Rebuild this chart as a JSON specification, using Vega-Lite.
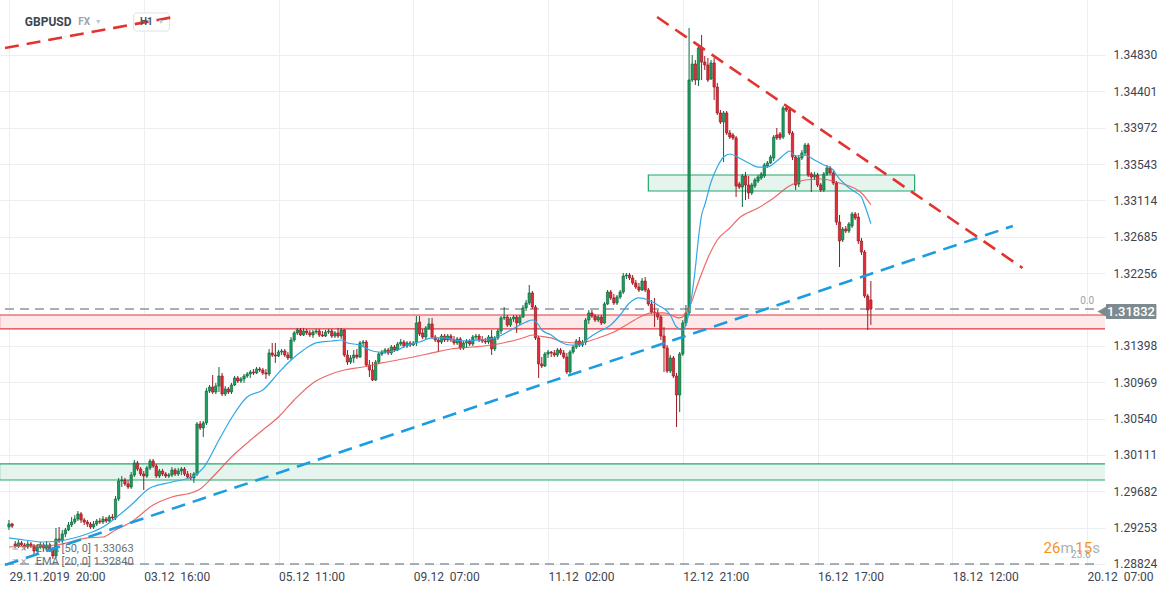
{
"$schema":"https://vega.github.io/schema/vega-lite/v6.json",
"width":1105,"height":566,
"autosize":{"type":"none"},
"padding":{"left":0,"top":0,"right":69,"bottom":28},
"background":"#ffffff",
"config":{"view":{"stroke":null},"font":"Roboto","axis":{"gridColor":"#eceff1","gridWidth":1,"domain":false,"ticks":false,"labelFont":"Roboto","labelFontSize":12,"labelColor":"#3d4450"}},
"datasets":{
"gband":[{"i1":-3,"i2":352,"p1":1.29815,"p2":1.30004}],
"gbox":[{"i1":204.0,"i2":288.97,"p1":1.33225,"p2":1.33414}],
"pband":[{"i1":-3,"i2":352,"p1":1.31597,"p2":1.31762}],
"hl":[{"i1":-1.2647,"i2":346.5,"p":1.31832},{"i1":-1.2647,"i2":346.5,"p":1.28824}],
"h1box":[{"i1":39.8,"i2":51.2,"p1":1.35113,"p2":1.35326}],
"candles":[
{"i":0,"o":1.29260,"h":1.29343,"l":1.29225,"c":1.29296},
{"i":1,"o":1.29296,"h":1.29308,"l":1.29249,"c":1.29272},
{"i":2,"o":1.29060,"h":1.29095,"l":1.29013,"c":1.29036},
{"i":3,"o":1.29036,"h":1.29107,"l":1.29013,"c":1.29072},
{"i":4,"o":1.29072,"h":1.29095,"l":1.29024,"c":1.29048},
{"i":5,"o":1.29048,"h":1.29072,"l":1.28989,"c":1.29024},
{"i":6,"o":1.29024,"h":1.29095,"l":1.29001,"c":1.29060},
{"i":7,"o":1.29060,"h":1.29083,"l":1.29013,"c":1.29036},
{"i":8,"o":1.29036,"h":1.29060,"l":1.28918,"c":1.28977},
{"i":9,"o":1.28977,"h":1.29048,"l":1.28954,"c":1.29024},
{"i":10,"o":1.29024,"h":1.29083,"l":1.29001,"c":1.29048},
{"i":11,"o":1.29048,"h":1.29072,"l":1.28977,"c":1.29013},
{"i":12,"o":1.29013,"h":1.29095,"l":1.28989,"c":1.29048},
{"i":13,"o":1.29048,"h":1.29072,"l":1.28965,"c":1.29001},
{"i":14,"o":1.29001,"h":1.29024,"l":1.28883,"c":1.28918},
{"i":15,"o":1.28918,"h":1.29249,"l":1.28895,"c":1.29119},
{"i":16,"o":1.29119,"h":1.29260,"l":1.29072,"c":1.29095},
{"i":17,"o":1.29095,"h":1.29225,"l":1.29072,"c":1.29178},
{"i":18,"o":1.29178,"h":1.29249,"l":1.29142,"c":1.29225},
{"i":19,"o":1.29225,"h":1.29319,"l":1.29213,"c":1.29284},
{"i":20,"o":1.29284,"h":1.29378,"l":1.29260,"c":1.29319},
{"i":21,"o":1.29319,"h":1.29402,"l":1.29296,"c":1.29355},
{"i":22,"o":1.29355,"h":1.29449,"l":1.29331,"c":1.29414},
{"i":23,"o":1.29414,"h":1.29437,"l":1.29308,"c":1.29343},
{"i":24,"o":1.29343,"h":1.29367,"l":1.29284,"c":1.29319},
{"i":25,"o":1.29319,"h":1.29343,"l":1.29260,"c":1.29296},
{"i":26,"o":1.29296,"h":1.29319,"l":1.29237,"c":1.29260},
{"i":27,"o":1.29260,"h":1.29331,"l":1.29237,"c":1.29296},
{"i":28,"o":1.29296,"h":1.29355,"l":1.29272,"c":1.29331},
{"i":29,"o":1.29331,"h":1.29367,"l":1.29296,"c":1.29319},
{"i":30,"o":1.29319,"h":1.29390,"l":1.29296,"c":1.29355},
{"i":31,"o":1.29355,"h":1.29378,"l":1.29308,"c":1.29331},
{"i":32,"o":1.29331,"h":1.29402,"l":1.29308,"c":1.29378},
{"i":33,"o":1.29378,"h":1.29414,"l":1.29343,"c":1.29367},
{"i":34,"o":1.29367,"h":1.29626,"l":1.29343,"c":1.29591},
{"i":35,"o":1.29591,"h":1.29839,"l":1.29567,"c":1.29803},
{"i":36,"o":1.29803,"h":1.29862,"l":1.29732,"c":1.29815},
{"i":37,"o":1.29815,"h":1.29839,"l":1.29744,"c":1.29768},
{"i":38,"o":1.29768,"h":1.29815,"l":1.29709,"c":1.29732},
{"i":39,"o":1.29732,"h":1.29909,"l":1.29709,"c":1.29874},
{"i":40,"o":1.29874,"h":1.30051,"l":1.29850,"c":1.30016},
{"i":41,"o":1.30016,"h":1.30039,"l":1.29921,"c":1.29945},
{"i":42,"o":1.29945,"h":1.29968,"l":1.29862,"c":1.29886},
{"i":43,"o":1.29886,"h":1.29921,"l":1.29697,"c":1.29862},
{"i":44,"o":1.29862,"h":1.29980,"l":1.29839,"c":1.29957},
{"i":45,"o":1.29957,"h":1.30063,"l":1.29933,"c":1.30039},
{"i":46,"o":1.30039,"h":1.30063,"l":1.29957,"c":1.29980},
{"i":47,"o":1.29980,"h":1.30004,"l":1.29839,"c":1.29862},
{"i":48,"o":1.29862,"h":1.29945,"l":1.29839,"c":1.29921},
{"i":49,"o":1.29921,"h":1.29945,"l":1.29862,"c":1.29886},
{"i":50,"o":1.29886,"h":1.29909,"l":1.29839,"c":1.29862},
{"i":51,"o":1.29862,"h":1.29898,"l":1.29839,"c":1.29874},
{"i":52,"o":1.29874,"h":1.29968,"l":1.29850,"c":1.29933},
{"i":53,"o":1.29933,"h":1.29957,"l":1.29862,"c":1.29886},
{"i":54,"o":1.29886,"h":1.29957,"l":1.29862,"c":1.29921},
{"i":55,"o":1.29921,"h":1.29968,"l":1.29874,"c":1.29945},
{"i":56,"o":1.29945,"h":1.29968,"l":1.29862,"c":1.29886},
{"i":57,"o":1.29886,"h":1.29921,"l":1.29827,"c":1.29850},
{"i":58,"o":1.29850,"h":1.29898,"l":1.29815,"c":1.29839},
{"i":59,"o":1.29839,"h":1.29909,"l":1.29780,"c":1.29886},
{"i":60,"o":1.29886,"h":1.30499,"l":1.29862,"c":1.30476},
{"i":61,"o":1.30476,"h":1.30511,"l":1.30405,"c":1.30429},
{"i":62,"o":1.30429,"h":1.30511,"l":1.30322,"c":1.30488},
{"i":63,"o":1.30488,"h":1.30901,"l":1.30464,"c":1.30865},
{"i":64,"o":1.30865,"h":1.30936,"l":1.30842,"c":1.30912},
{"i":65,"o":1.30912,"h":1.31054,"l":1.30830,"c":1.30853},
{"i":66,"o":1.30853,"h":1.30960,"l":1.30830,"c":1.30924},
{"i":67,"o":1.30924,"h":1.31148,"l":1.30853,"c":1.31042},
{"i":68,"o":1.31042,"h":1.31078,"l":1.30806,"c":1.30830},
{"i":69,"o":1.30830,"h":1.30924,"l":1.30806,"c":1.30889},
{"i":70,"o":1.30889,"h":1.30912,"l":1.30830,"c":1.30853},
{"i":71,"o":1.30853,"h":1.30960,"l":1.30830,"c":1.30936},
{"i":72,"o":1.30936,"h":1.31042,"l":1.30924,"c":1.31019},
{"i":73,"o":1.31019,"h":1.31042,"l":1.30960,"c":1.30983},
{"i":74,"o":1.30983,"h":1.31030,"l":1.30960,"c":1.31007},
{"i":75,"o":1.31007,"h":1.31066,"l":1.30960,"c":1.31042},
{"i":76,"o":1.31042,"h":1.31089,"l":1.31019,"c":1.31066},
{"i":77,"o":1.31066,"h":1.31113,"l":1.31019,"c":1.31089},
{"i":78,"o":1.31089,"h":1.31125,"l":1.31054,"c":1.31078},
{"i":79,"o":1.31078,"h":1.31148,"l":1.31066,"c":1.31125},
{"i":80,"o":1.31125,"h":1.31148,"l":1.31089,"c":1.31113},
{"i":81,"o":1.31113,"h":1.31137,"l":1.31054,"c":1.31078},
{"i":82,"o":1.31078,"h":1.31125,"l":1.31007,"c":1.31066},
{"i":83,"o":1.31066,"h":1.31361,"l":1.31042,"c":1.31314},
{"i":84,"o":1.31314,"h":1.31432,"l":1.31266,"c":1.31290},
{"i":85,"o":1.31290,"h":1.31432,"l":1.31196,"c":1.31278},
{"i":86,"o":1.31278,"h":1.31349,"l":1.31266,"c":1.31325},
{"i":87,"o":1.31325,"h":1.31361,"l":1.31290,"c":1.31337},
{"i":88,"o":1.31337,"h":1.31361,"l":1.31266,"c":1.31290},
{"i":89,"o":1.31290,"h":1.31325,"l":1.31231,"c":1.31255},
{"i":90,"o":1.31255,"h":1.31502,"l":1.31231,"c":1.31467},
{"i":91,"o":1.31467,"h":1.31573,"l":1.31443,"c":1.31550},
{"i":92,"o":1.31550,"h":1.31609,"l":1.31526,"c":1.31585},
{"i":93,"o":1.31585,"h":1.31609,"l":1.31514,"c":1.31526},
{"i":94,"o":1.31526,"h":1.31609,"l":1.31514,"c":1.31573},
{"i":95,"o":1.31573,"h":1.31597,"l":1.31526,"c":1.31550},
{"i":96,"o":1.31550,"h":1.31585,"l":1.31502,"c":1.31526},
{"i":97,"o":1.31526,"h":1.31585,"l":1.31491,"c":1.31561},
{"i":98,"o":1.31561,"h":1.31597,"l":1.31538,"c":1.31573},
{"i":99,"o":1.31573,"h":1.31597,"l":1.31502,"c":1.31526},
{"i":100,"o":1.31526,"h":1.31573,"l":1.31502,"c":1.31514},
{"i":101,"o":1.31514,"h":1.31585,"l":1.31502,"c":1.31561},
{"i":102,"o":1.31561,"h":1.31597,"l":1.31538,"c":1.31573},
{"i":103,"o":1.31573,"h":1.31597,"l":1.31491,"c":1.31514},
{"i":104,"o":1.31514,"h":1.31573,"l":1.31491,"c":1.31550},
{"i":105,"o":1.31550,"h":1.31609,"l":1.31491,"c":1.31514},
{"i":106,"o":1.31514,"h":1.31609,"l":1.31479,"c":1.31585},
{"i":107,"o":1.31585,"h":1.31597,"l":1.31266,"c":1.31290},
{"i":108,"o":1.31290,"h":1.31349,"l":1.31172,"c":1.31207},
{"i":109,"o":1.31207,"h":1.31290,"l":1.31184,"c":1.31255},
{"i":110,"o":1.31255,"h":1.31349,"l":1.31196,"c":1.31290},
{"i":111,"o":1.31290,"h":1.31361,"l":1.31243,"c":1.31266},
{"i":112,"o":1.31266,"h":1.31455,"l":1.31255,"c":1.31432},
{"i":113,"o":1.31432,"h":1.31467,"l":1.31384,"c":1.31443},
{"i":114,"o":1.31443,"h":1.31467,"l":1.31148,"c":1.31172},
{"i":115,"o":1.31172,"h":1.31231,"l":1.31030,"c":1.31113},
{"i":116,"o":1.31113,"h":1.31207,"l":1.30983,"c":1.30995},
{"i":117,"o":1.30995,"h":1.31231,"l":1.30983,"c":1.31207},
{"i":118,"o":1.31207,"h":1.31325,"l":1.31184,"c":1.31302},
{"i":119,"o":1.31302,"h":1.31349,"l":1.31278,"c":1.31325},
{"i":120,"o":1.31325,"h":1.31373,"l":1.31302,"c":1.31349},
{"i":121,"o":1.31349,"h":1.31373,"l":1.31290,"c":1.31314},
{"i":122,"o":1.31314,"h":1.31408,"l":1.31290,"c":1.31384},
{"i":123,"o":1.31384,"h":1.31408,"l":1.31325,"c":1.31349},
{"i":124,"o":1.31349,"h":1.31443,"l":1.31337,"c":1.31420},
{"i":125,"o":1.31420,"h":1.31479,"l":1.31396,"c":1.31443},
{"i":126,"o":1.31443,"h":1.31467,"l":1.31373,"c":1.31396},
{"i":127,"o":1.31396,"h":1.31455,"l":1.31373,"c":1.31432},
{"i":128,"o":1.31432,"h":1.31455,"l":1.31384,"c":1.31408},
{"i":129,"o":1.31408,"h":1.31455,"l":1.31396,"c":1.31432},
{"i":130,"o":1.31432,"h":1.31750,"l":1.31396,"c":1.31668},
{"i":131,"o":1.31679,"h":1.31750,"l":1.31514,"c":1.31538},
{"i":132,"o":1.31550,"h":1.31597,"l":1.31479,"c":1.31502},
{"i":133,"o":1.31502,"h":1.31632,"l":1.31479,"c":1.31609},
{"i":134,"o":1.31609,"h":1.31727,"l":1.31585,"c":1.31656},
{"i":135,"o":1.31656,"h":1.31727,"l":1.31479,"c":1.31502},
{"i":136,"o":1.31502,"h":1.31526,"l":1.31443,"c":1.31467},
{"i":137,"o":1.31467,"h":1.31491,"l":1.31325,"c":1.31443},
{"i":138,"o":1.31443,"h":1.31538,"l":1.31420,"c":1.31514},
{"i":139,"o":1.31514,"h":1.31538,"l":1.31443,"c":1.31467},
{"i":140,"o":1.31467,"h":1.31538,"l":1.31443,"c":1.31514},
{"i":141,"o":1.31514,"h":1.31538,"l":1.31443,"c":1.31467},
{"i":142,"o":1.31467,"h":1.31514,"l":1.31408,"c":1.31432},
{"i":143,"o":1.31432,"h":1.31502,"l":1.31408,"c":1.31479},
{"i":144,"o":1.31479,"h":1.31502,"l":1.31349,"c":1.31373},
{"i":145,"o":1.31373,"h":1.31455,"l":1.31349,"c":1.31432},
{"i":146,"o":1.31432,"h":1.31479,"l":1.31373,"c":1.31455},
{"i":147,"o":1.31455,"h":1.31479,"l":1.31396,"c":1.31420},
{"i":148,"o":1.31420,"h":1.31526,"l":1.31396,"c":1.31502},
{"i":149,"o":1.31502,"h":1.31538,"l":1.31467,"c":1.31514},
{"i":150,"o":1.31514,"h":1.31538,"l":1.31443,"c":1.31467},
{"i":151,"o":1.31467,"h":1.31514,"l":1.31432,"c":1.31455},
{"i":152,"o":1.31455,"h":1.31491,"l":1.31420,"c":1.31443},
{"i":153,"o":1.31443,"h":1.31526,"l":1.31420,"c":1.31502},
{"i":154,"o":1.31502,"h":1.31585,"l":1.31290,"c":1.31361},
{"i":155,"o":1.31361,"h":1.31514,"l":1.31337,"c":1.31491},
{"i":156,"o":1.31491,"h":1.31597,"l":1.31467,"c":1.31573},
{"i":157,"o":1.31573,"h":1.31750,"l":1.31538,"c":1.31727},
{"i":158,"o":1.31727,"h":1.31856,"l":1.31703,"c":1.31738},
{"i":159,"o":1.31738,"h":1.31762,"l":1.31620,"c":1.31644},
{"i":160,"o":1.31644,"h":1.31738,"l":1.31620,"c":1.31715},
{"i":161,"o":1.31715,"h":1.31762,"l":1.31679,"c":1.31738},
{"i":162,"o":1.31738,"h":1.31762,"l":1.31550,"c":1.31668},
{"i":163,"o":1.31668,"h":1.31762,"l":1.31644,"c":1.31738},
{"i":164,"o":1.31738,"h":1.31880,"l":1.31727,"c":1.31845},
{"i":165,"o":1.31845,"h":1.31939,"l":1.31809,"c":1.31904},
{"i":166,"o":1.31904,"h":1.32116,"l":1.31880,"c":1.32022},
{"i":167,"o":1.32022,"h":1.32045,"l":1.31833,"c":1.31856},
{"i":168,"o":1.31856,"h":1.31880,"l":1.31467,"c":1.31491},
{"i":169,"o":1.31491,"h":1.31514,"l":1.31019,"c":1.31184},
{"i":170,"o":1.31184,"h":1.31266,"l":1.31137,"c":1.31160},
{"i":171,"o":1.31160,"h":1.31325,"l":1.31148,"c":1.31302},
{"i":172,"o":1.31302,"h":1.31349,"l":1.31255,"c":1.31325},
{"i":173,"o":1.31325,"h":1.31337,"l":1.31266,"c":1.31314},
{"i":174,"o":1.31314,"h":1.31349,"l":1.31266,"c":1.31290},
{"i":175,"o":1.31290,"h":1.31373,"l":1.31266,"c":1.31349},
{"i":176,"o":1.31349,"h":1.31373,"l":1.31290,"c":1.31314},
{"i":177,"o":1.31314,"h":1.31349,"l":1.31243,"c":1.31266},
{"i":178,"o":1.31266,"h":1.31314,"l":1.31066,"c":1.31089},
{"i":179,"o":1.31089,"h":1.31349,"l":1.31066,"c":1.31325},
{"i":180,"o":1.31325,"h":1.31408,"l":1.31302,"c":1.31384},
{"i":181,"o":1.31384,"h":1.31479,"l":1.31361,"c":1.31455},
{"i":182,"o":1.31455,"h":1.31502,"l":1.31384,"c":1.31408},
{"i":183,"o":1.31408,"h":1.31467,"l":1.31384,"c":1.31443},
{"i":184,"o":1.31443,"h":1.31727,"l":1.31408,"c":1.31703},
{"i":185,"o":1.31703,"h":1.31821,"l":1.31656,"c":1.31786},
{"i":186,"o":1.31786,"h":1.31821,"l":1.31727,"c":1.31750},
{"i":187,"o":1.31750,"h":1.31774,"l":1.31679,"c":1.31703},
{"i":188,"o":1.31703,"h":1.31762,"l":1.31679,"c":1.31738},
{"i":189,"o":1.31738,"h":1.31762,"l":1.31644,"c":1.31668},
{"i":190,"o":1.31668,"h":1.31915,"l":1.31656,"c":1.31892},
{"i":191,"o":1.31892,"h":1.32057,"l":1.31880,"c":1.32033},
{"i":192,"o":1.32033,"h":1.32057,"l":1.31939,"c":1.31963},
{"i":193,"o":1.31963,"h":1.32010,"l":1.31880,"c":1.31904},
{"i":194,"o":1.31904,"h":1.31998,"l":1.31880,"c":1.31974},
{"i":195,"o":1.31974,"h":1.32057,"l":1.31951,"c":1.32033},
{"i":196,"o":1.32033,"h":1.32258,"l":1.32010,"c":1.32222},
{"i":197,"o":1.32222,"h":1.32258,"l":1.32187,"c":1.32234},
{"i":198,"o":1.32234,"h":1.32258,"l":1.32175,"c":1.32199},
{"i":199,"o":1.32199,"h":1.32234,"l":1.32116,"c":1.32140},
{"i":200,"o":1.32140,"h":1.32175,"l":1.32069,"c":1.32092},
{"i":201,"o":1.32092,"h":1.32140,"l":1.32033,"c":1.32057},
{"i":202,"o":1.32057,"h":1.32199,"l":1.32045,"c":1.32163},
{"i":203,"o":1.32163,"h":1.32210,"l":1.32033,"c":1.32057},
{"i":204,"o":1.32057,"h":1.32081,"l":1.31868,"c":1.31892},
{"i":205,"o":1.31892,"h":1.31939,"l":1.31774,"c":1.31797},
{"i":206,"o":1.31797,"h":1.31963,"l":1.31620,"c":1.31786},
{"i":207,"o":1.31786,"h":1.31821,"l":1.31703,"c":1.31738},
{"i":208,"o":1.31738,"h":1.31762,"l":1.31467,"c":1.31514},
{"i":209,"o":1.31514,"h":1.31620,"l":1.31089,"c":1.31373},
{"i":210,"o":1.31373,"h":1.31408,"l":1.31078,"c":1.31101},
{"i":211,"o":1.31101,"h":1.31290,"l":1.31078,"c":1.31255},
{"i":212,"o":1.31255,"h":1.31278,"l":1.31019,"c":1.31042},
{"i":213,"o":1.31042,"h":1.31078,"l":1.30440,"c":1.30818},
{"i":214,"o":1.30818,"h":1.31325,"l":1.30617,"c":1.31302},
{"i":215,"o":1.31302,"h":1.31703,"l":1.31278,"c":1.31668},
{"i":216,"o":1.31668,"h":1.31880,"l":1.31632,"c":1.31786},
{"i":217,"o":1.31786,"h":1.35149,"l":1.31762,"c":1.34535},
{"i":218,"o":1.34535,"h":1.34830,"l":1.34511,"c":1.34724},
{"i":219,"o":1.34724,"h":1.34771,"l":1.34476,"c":1.34535},
{"i":220,"o":1.34535,"h":1.34960,"l":1.34464,"c":1.34913},
{"i":221,"o":1.34913,"h":1.35066,"l":1.34535,"c":1.34747},
{"i":222,"o":1.34747,"h":1.34818,"l":1.34653,"c":1.34712},
{"i":223,"o":1.34712,"h":1.34795,"l":1.34511,"c":1.34535},
{"i":224,"o":1.34547,"h":1.34771,"l":1.34535,"c":1.34736},
{"i":225,"o":1.34736,"h":1.34795,"l":1.34299,"c":1.34452},
{"i":226,"o":1.34452,"h":1.34500,"l":1.34122,"c":1.34146},
{"i":227,"o":1.34146,"h":1.34181,"l":1.34016,"c":1.34039},
{"i":228,"o":1.34039,"h":1.34169,"l":1.33567,"c":1.34146},
{"i":229,"o":1.34146,"h":1.34169,"l":1.33886,"c":1.33910},
{"i":230,"o":1.33910,"h":1.33945,"l":1.33839,"c":1.33862},
{"i":231,"o":1.33886,"h":1.33910,"l":1.33827,"c":1.33851},
{"i":232,"o":1.33851,"h":1.33874,"l":1.33154,"c":1.33284},
{"i":233,"o":1.33308,"h":1.33331,"l":1.33249,"c":1.33272},
{"i":234,"o":1.33272,"h":1.33426,"l":1.33036,"c":1.33402},
{"i":235,"o":1.33402,"h":1.33449,"l":1.33119,"c":1.33296},
{"i":236,"o":1.33296,"h":1.33402,"l":1.33131,"c":1.33202},
{"i":237,"o":1.33202,"h":1.33320,"l":1.33178,"c":1.33296},
{"i":238,"o":1.33284,"h":1.33379,"l":1.33261,"c":1.33355},
{"i":239,"o":1.33343,"h":1.33414,"l":1.33320,"c":1.33390},
{"i":240,"o":1.33379,"h":1.33449,"l":1.33355,"c":1.33426},
{"i":241,"o":1.33402,"h":1.33556,"l":1.33379,"c":1.33532},
{"i":242,"o":1.33520,"h":1.33579,"l":1.33497,"c":1.33556},
{"i":243,"o":1.33556,"h":1.33650,"l":1.33544,"c":1.33626},
{"i":244,"o":1.33615,"h":1.33886,"l":1.33579,"c":1.33862},
{"i":245,"o":1.33886,"h":1.33969,"l":1.33827,"c":1.33851},
{"i":246,"o":1.33898,"h":1.33921,"l":1.33827,"c":1.33851},
{"i":247,"o":1.33862,"h":1.34228,"l":1.33839,"c":1.34205},
{"i":248,"o":1.34205,"h":1.34240,"l":1.34157,"c":1.34181},
{"i":249,"o":1.34181,"h":1.34205,"l":1.33886,"c":1.33910},
{"i":250,"o":1.33910,"h":1.33933,"l":1.33591,"c":1.33626},
{"i":251,"o":1.33626,"h":1.33650,"l":1.33237,"c":1.33296},
{"i":252,"o":1.33308,"h":1.33650,"l":1.33272,"c":1.33615},
{"i":253,"o":1.33615,"h":1.33709,"l":1.33591,"c":1.33674},
{"i":254,"o":1.33674,"h":1.33792,"l":1.33638,"c":1.33768},
{"i":255,"o":1.33768,"h":1.33792,"l":1.33390,"c":1.33414},
{"i":256,"o":1.33426,"h":1.33449,"l":1.33213,"c":1.33390},
{"i":257,"o":1.33390,"h":1.33449,"l":1.33355,"c":1.33414},
{"i":258,"o":1.33414,"h":1.33438,"l":1.33272,"c":1.33296},
{"i":259,"o":1.33296,"h":1.33320,"l":1.33213,"c":1.33237},
{"i":260,"o":1.33237,"h":1.33449,"l":1.33213,"c":1.33426},
{"i":261,"o":1.33426,"h":1.33532,"l":1.33402,"c":1.33497},
{"i":262,"o":1.33497,"h":1.33520,"l":1.33414,"c":1.33438},
{"i":263,"o":1.33438,"h":1.33461,"l":1.33296,"c":1.33320},
{"i":264,"o":1.33320,"h":1.33343,"l":1.32824,"c":1.32859},
{"i":265,"o":1.32859,"h":1.32942,"l":1.32328,"c":1.32635},
{"i":266,"o":1.32647,"h":1.32800,"l":1.32623,"c":1.32777},
{"i":267,"o":1.32777,"h":1.32812,"l":1.32730,"c":1.32753},
{"i":268,"o":1.32753,"h":1.32859,"l":1.32730,"c":1.32836},
{"i":269,"o":1.32812,"h":1.32977,"l":1.32789,"c":1.32954},
{"i":270,"o":1.32954,"h":1.32977,"l":1.32883,"c":1.32907},
{"i":271,"o":1.32918,"h":1.32966,"l":1.32600,"c":1.32635},
{"i":272,"o":1.32635,"h":1.32671,"l":1.32470,"c":1.32505},
{"i":273,"o":1.32505,"h":1.32529,"l":1.31963,"c":1.31986},
{"i":274,"o":1.31986,"h":1.32010,"l":1.31585,"c":1.31821},
{"i":275,"o":1.31939,"h":1.32163,"l":1.31644,"c":1.31832}
],
"ema50":[
{"i":0,"p":1.29024},{"i":7,"p":1.29036},{"i":15,"p":1.29048},{"i":25,"p":1.29131},{"i":30,"p":1.29142},{"i":34,"p":1.29225},{"i":39,"p":1.29319},{"i":46,"p":1.29520},{"i":52,"p":1.29614},{"i":59,"p":1.29673},{"i":61,"p":1.29709},{"i":65,"p":1.29850},{"i":71,"p":1.30086},{"i":76,"p":1.30252},{"i":81,"p":1.30405},{"i":86,"p":1.30558},{"i":91,"p":1.30759},{"i":97,"p":1.30960},{"i":102,"p":1.31054},{"i":107,"p":1.31113},{"i":113,"p":1.31148},{"i":119,"p":1.31196},{"i":124,"p":1.31231},{"i":129,"p":1.31266},{"i":135,"p":1.31314},{"i":141,"p":1.31361},{"i":148,"p":1.31384},{"i":154,"p":1.31408},{"i":159,"p":1.31443},{"i":164,"p":1.31491},{"i":167,"p":1.31526},{"i":169,"p":1.31514},{"i":173,"p":1.31491},{"i":177,"p":1.31443},{"i":182,"p":1.31432},{"i":188,"p":1.31491},{"i":193,"p":1.31561},{"i":198,"p":1.31668},{"i":202,"p":1.31750},{"i":205,"p":1.31786},{"i":209,"p":1.31786},{"i":214,"p":1.31727},{"i":217,"p":1.31845},{"i":220,"p":1.32151},{"i":223,"p":1.32435},{"i":226,"p":1.32647},{"i":230,"p":1.32789},{"i":233,"p":1.32907},{"i":239,"p":1.33025},{"i":244,"p":1.33143},{"i":249,"p":1.33284},{"i":254,"p":1.33355},{"i":259,"p":1.33367},{"i":265,"p":1.33320},{"i":272,"p":1.33202},{"i":275,"p":1.33063}
],
"ema20":[
{"i":0,"p":1.29131},{"i":5,"p":1.29107},{"i":11,"p":1.29083},{"i":18,"p":1.29107},{"i":24,"p":1.29166},{"i":30,"p":1.29260},{"i":34,"p":1.29367},{"i":39,"p":1.29520},{"i":45,"p":1.29721},{"i":52,"p":1.29791},{"i":59,"p":1.29862},{"i":62,"p":1.29957},{"i":67,"p":1.30287},{"i":71,"p":1.30547},{"i":76,"p":1.30794},{"i":81,"p":1.30877},{"i":86,"p":1.31078},{"i":89,"p":1.31196},{"i":94,"p":1.31349},{"i":98,"p":1.31432},{"i":103,"p":1.31455},{"i":106,"p":1.31467},{"i":108,"p":1.31432},{"i":112,"p":1.31408},{"i":115,"p":1.31349},{"i":118,"p":1.31325},{"i":121,"p":1.31325},{"i":124,"p":1.31349},{"i":127,"p":1.31408},{"i":131,"p":1.31443},{"i":135,"p":1.31491},{"i":139,"p":1.31491},{"i":142,"p":1.31467},{"i":146,"p":1.31455},{"i":150,"p":1.31467},{"i":155,"p":1.31491},{"i":159,"p":1.31561},{"i":163,"p":1.31644},{"i":165,"p":1.31679},{"i":167,"p":1.31703},{"i":169,"p":1.31644},{"i":170,"p":1.31585},{"i":173,"p":1.31526},{"i":176,"p":1.31443},{"i":179,"p":1.31408},{"i":182,"p":1.31408},{"i":185,"p":1.31491},{"i":188,"p":1.31561},{"i":192,"p":1.31644},{"i":195,"p":1.31762},{"i":198,"p":1.31904},{"i":201,"p":1.31963},{"i":204,"p":1.31939},{"i":207,"p":1.31880},{"i":211,"p":1.31762},{"i":213,"p":1.31620},{"i":215,"p":1.31585},{"i":217,"p":1.31797},{"i":219,"p":1.32317},{"i":220,"p":1.32671},{"i":221,"p":1.32942},{"i":222,"p":1.33060},{"i":224,"p":1.33331},{"i":226,"p":1.33508},{"i":228,"p":1.33626},{"i":230,"p":1.33662},{"i":233,"p":1.33615},{"i":236,"p":1.33556},{"i":239,"p":1.33508},{"i":242,"p":1.33508},{"i":245,"p":1.33579},{"i":248,"p":1.33674},{"i":249,"p":1.33697},{"i":251,"p":1.33638},{"i":254,"p":1.33650},{"i":257,"p":1.33591},{"i":260,"p":1.33532},{"i":263,"p":1.33473},{"i":264,"p":1.33414},{"i":267,"p":1.33296},{"i":269,"p":1.33237},{"i":272,"p":1.33154},{"i":273,"p":1.33060},{"i":275,"p":1.32840}
],
"redtl":[{"g":"a","i":-1.2647,"p":1.34913},{"g":"a","i":52.5,"p":1.35278},{"g":"b","i":206.8,"p":1.35278},{"g":"b","i":323.4,"p":1.32317}],
"bluetl":[{"i":-1.2647,"p":1.28812},{"i":320.3,"p":1.32812}],
"ttl":[{"i":5.06,"p":1.35219,"t":"GBPUSD"}],
"tfx":[{"i":22.1,"p":1.35219,"t":"FX"}],
"th1":[{"i":41.8,"p":1.35219,"t":"H1"}],
"ttri":[{"i":28.5,"p":1.35219,"t":"▼"},{"i":48.5,"p":1.35219,"t":"▼"}],
"tleg":[{"i":8.54,"p":1.29001,"t":"EMA [50, 0] 1.33063"},{"i":8.54,"p":1.28847,"t":"EMA [20, 0] 1.32840"}],
"ticon":[{"i":0.9,"p":1.29001,"t":"≡ ×"},{"i":0.9,"p":1.28847,"t":"≡ ×"}],
"tfib":[{"i":344.0,"p":1.31927,"t":"0.0"},{"i":342.0,"p":1.28925,"t":"23.6"}],
"torange":[{"i":330.1,"p":1.29013,"t":"26"},{"i":340.2,"p":1.29013,"t":"15"}],
"tgrey":[{"i":335.5,"p":1.29013,"t":"m"},{"i":345.6,"p":1.29013,"t":"s"}],
"tag":[{"i1":350.0,"i2":366.1,"p1":1.31715,"p2":1.31892}],
"tagtri":[{"i":349.0,"p":1.31803}],
"tagtxt":[{"i":358.0,"p":1.31803,"t":"1.31832"}]
},
"layer":[
{"data":{"name":"gband"},"mark":{"type":"rect","fill":"#e5f5ee","stroke":"#22a86b","strokeWidth":1.2,"clip":true},
 "encoding":{
  "x":{"field":"i1","type":"quantitative","scale":{"domain":[-1.2647,348.11],"nice":false,"zero":false},
   "axis":{"values":[0,43,86,129,172,215,258,301,344],"grid":true,"labelAlign":"left","labelPadding":5,"labelBound":false,"labelOverlap":false,"labelFlush":false,"title":null,
    "labelExpr":"datum.value==0?'29.11.2019\u00a0 20:00':datum.value==43?'03.12\u00a0 16:00':datum.value==86?'05.12\u00a0 11:00':datum.value==129?'09.12\u00a0 07:00':datum.value==172?'11.12\u00a0 02:00':datum.value==215?'12.12\u00a0 21:00':datum.value==258?'16.12\u00a0 17:00':datum.value==301?'18.12\u00a0 12:00':'20.12\u00a0 07:00'"}},
  "x2":{"field":"i2"},
  "y":{"field":"p1","type":"quantitative","scale":{"domain":[1.288,1.35479],"nice":false,"zero":false},
   "axis":{"orient":"right","values":[1.28824,1.29253,1.29682,1.30111,1.3054,1.30969,1.31398,1.32256,1.32685,1.33114,1.33543,1.33972,1.34401,1.3483],"format":".5f","grid":true,"labelPadding":8,"title":null}},
  "y2":{"field":"p2"}}},
{"data":{"name":"gbox"},"mark":{"type":"rect","fill":"#e5f5ee","stroke":"#22a86b","strokeWidth":1.2,"clip":true},
 "encoding":{"x":{"field":"i1","type":"quantitative","scale":{"domain":[-1.2647,348.11],"nice":false,"zero":false}},"x2":{"field":"i2"},
  "y":{"field":"p1","type":"quantitative","scale":{"domain":[1.288,1.35479],"nice":false,"zero":false}},"y2":{"field":"p2"}}},
{"data":{"name":"pband"},"mark":{"type":"rect","fill":"#fde9e9","stroke":"#e2393e","strokeWidth":1.2,"clip":true},
 "encoding":{"x":{"field":"i1","type":"quantitative","scale":{"domain":[-1.2647,348.11],"nice":false,"zero":false}},"x2":{"field":"i2"},
  "y":{"field":"p1","type":"quantitative","scale":{"domain":[1.288,1.35479],"nice":false,"zero":false}},"y2":{"field":"p2"}}},
{"data":{"name":"hl"},"mark":{"type":"rule","color":"#8c979e","strokeWidth":1.6,"strokeDash":[9,6]},
 "encoding":{"x":{"field":"i1","type":"quantitative","scale":{"domain":[-1.2647,348.11],"nice":false,"zero":false}},"x2":{"field":"i2"},
  "y":{"field":"p","type":"quantitative","scale":{"domain":[1.288,1.35479],"nice":false,"zero":false}}}},
{"data":{"name":"h1box"},"mark":{"type":"rect","fill":"#ffffff","stroke":"#dde2e5","strokeWidth":1,"cornerRadius":3},
 "encoding":{"x":{"field":"i1","type":"quantitative","scale":{"domain":[-1.2647,348.11],"nice":false,"zero":false}},"x2":{"field":"i2"},
  "y":{"field":"p1","type":"quantitative","scale":{"domain":[1.288,1.35479],"nice":false,"zero":false}},"y2":{"field":"p2"}}},
{"data":{"name":"candles"},"mark":{"type":"rule","strokeWidth":1},
 "encoding":{"x":{"field":"i","type":"quantitative","scale":{"domain":[-1.2647,348.11],"nice":false,"zero":false}},
  "y":{"field":"l","type":"quantitative","scale":{"domain":[1.288,1.35479],"nice":false,"zero":false}},"y2":{"field":"h"},
  "color":{"condition":{"test":"datum.c>=datum.o","value":"#0d6a3c"},"value":"#9a1a22"}}},
{"data":{"name":"candles"},"mark":{"type":"bar","size":2.3,"strokeWidth":0.7},
 "encoding":{"x":{"field":"i","type":"quantitative","scale":{"domain":[-1.2647,348.11],"nice":false,"zero":false}},
  "y":{"field":"o","type":"quantitative","scale":{"domain":[1.288,1.35479],"nice":false,"zero":false}},"y2":{"field":"c"},
  "fill":{"condition":{"test":"datum.c>=datum.o","value":"#1f9e62"},"value":"#e22b36"},
  "stroke":{"condition":{"test":"datum.c>=datum.o","value":"#0d6a3c"},"value":"#9a1a22"}}},
{"data":{"name":"ema50"},"mark":{"type":"line","color":"#e8514f","strokeWidth":1.2,"opacity":0.85,"interpolate":"monotone"},
 "encoding":{"x":{"field":"i","type":"quantitative","scale":{"domain":[-1.2647,348.11],"nice":false,"zero":false}},
  "y":{"field":"p","type":"quantitative","scale":{"domain":[1.288,1.35479],"nice":false,"zero":false}}}},
{"data":{"name":"ema20"},"mark":{"type":"line","color":"#2fa8e6","strokeWidth":1.2,"interpolate":"monotone"},
 "encoding":{"x":{"field":"i","type":"quantitative","scale":{"domain":[-1.2647,348.11],"nice":false,"zero":false}},
  "y":{"field":"p","type":"quantitative","scale":{"domain":[1.288,1.35479],"nice":false,"zero":false}}}},
{"data":{"name":"ticon"},"mark":{"type":"text","align":"left","baseline":"middle","fontSize":11,"color":"#9aa4aa"},
 "encoding":{"x":{"field":"i","type":"quantitative","scale":{"domain":[-1.2647,348.11],"nice":false,"zero":false}},
  "y":{"field":"p","type":"quantitative","scale":{"domain":[1.288,1.35479],"nice":false,"zero":false}},"text":{"field":"t"}}},
{"data":{"name":"tleg"},"mark":{"type":"text","align":"left","baseline":"middle","fontSize":11,"color":"#666f75"},
 "encoding":{"x":{"field":"i","type":"quantitative","scale":{"domain":[-1.2647,348.11],"nice":false,"zero":false}},
  "y":{"field":"p","type":"quantitative","scale":{"domain":[1.288,1.35479],"nice":false,"zero":false}},"text":{"field":"t"}}},
{"data":{"name":"redtl"},"mark":{"type":"line","color":"#e2332f","strokeWidth":2.6,"strokeDash":[14,8],"clip":true},
 "encoding":{"x":{"field":"i","type":"quantitative","scale":{"domain":[-1.2647,348.11],"nice":false,"zero":false}},
  "y":{"field":"p","type":"quantitative","scale":{"domain":[1.288,1.35479],"nice":false,"zero":false}},"detail":{"field":"g"}}},
{"data":{"name":"bluetl"},"mark":{"type":"line","color":"#1b9de2","strokeWidth":2.6,"strokeDash":[14,8],"clip":true},
 "encoding":{"x":{"field":"i","type":"quantitative","scale":{"domain":[-1.2647,348.11],"nice":false,"zero":false}},
  "y":{"field":"p","type":"quantitative","scale":{"domain":[1.288,1.35479],"nice":false,"zero":false}}}},
{"data":{"name":"ttl"},"mark":{"type":"text","align":"left","baseline":"middle","fontSize":12,"fontWeight":"bold","color":"#3b4650"},
 "encoding":{"x":{"field":"i","type":"quantitative","scale":{"domain":[-1.2647,348.11],"nice":false,"zero":false}},
  "y":{"field":"p","type":"quantitative","scale":{"domain":[1.288,1.35479],"nice":false,"zero":false}},"text":{"field":"t"}}},
{"data":{"name":"tfx"},"mark":{"type":"text","align":"left","baseline":"middle","fontSize":10,"fontWeight":"bold","color":"#9aa7ad"},
 "encoding":{"x":{"field":"i","type":"quantitative","scale":{"domain":[-1.2647,348.11],"nice":false,"zero":false}},
  "y":{"field":"p","type":"quantitative","scale":{"domain":[1.288,1.35479],"nice":false,"zero":false}},"text":{"field":"t"}}},
{"data":{"name":"th1"},"mark":{"type":"text","align":"left","baseline":"middle","fontSize":10,"fontWeight":"bold","color":"#4b5560"},
 "encoding":{"x":{"field":"i","type":"quantitative","scale":{"domain":[-1.2647,348.11],"nice":false,"zero":false}},
  "y":{"field":"p","type":"quantitative","scale":{"domain":[1.288,1.35479],"nice":false,"zero":false}},"text":{"field":"t"}}},
{"data":{"name":"ttri"},"mark":{"type":"text","align":"center","baseline":"middle","fontSize":7,"color":"#bcc4c8"},
 "encoding":{"x":{"field":"i","type":"quantitative","scale":{"domain":[-1.2647,348.11],"nice":false,"zero":false}},
  "y":{"field":"p","type":"quantitative","scale":{"domain":[1.288,1.35479],"nice":false,"zero":false}},"text":{"field":"t"}}},
{"data":{"name":"tfib"},"mark":{"type":"text","align":"center","baseline":"middle","fontSize":10,"color":"#98a6ae"},
 "encoding":{"x":{"field":"i","type":"quantitative","scale":{"domain":[-1.2647,348.11],"nice":false,"zero":false}},
  "y":{"field":"p","type":"quantitative","scale":{"domain":[1.288,1.35479],"nice":false,"zero":false}},"text":{"field":"t"}}},
{"data":{"name":"torange"},"mark":{"type":"text","align":"left","baseline":"middle","fontSize":15,"color":"#f7941d"},
 "encoding":{"x":{"field":"i","type":"quantitative","scale":{"domain":[-1.2647,348.11],"nice":false,"zero":false}},
  "y":{"field":"p","type":"quantitative","scale":{"domain":[1.288,1.35479],"nice":false,"zero":false}},"text":{"field":"t"}}},
{"data":{"name":"tgrey"},"mark":{"type":"text","align":"left","baseline":"middle","fontSize":15,"color":"#a9b3b9"},
 "encoding":{"x":{"field":"i","type":"quantitative","scale":{"domain":[-1.2647,348.11],"nice":false,"zero":false}},
  "y":{"field":"p","type":"quantitative","scale":{"domain":[1.288,1.35479],"nice":false,"zero":false}},"text":{"field":"t"}}},
{"data":{"name":"tag"},"mark":{"type":"rect","fill":"#7d8a90","cornerRadius":1},
 "encoding":{"x":{"field":"i1","type":"quantitative","scale":{"domain":[-1.2647,348.11],"nice":false,"zero":false}},"x2":{"field":"i2"},
  "y":{"field":"p1","type":"quantitative","scale":{"domain":[1.288,1.35479],"nice":false,"zero":false}},"y2":{"field":"p2"}}},
{"data":{"name":"tagtri"},"mark":{"type":"point","shape":"triangle-left","filled":true,"size":150,"color":"#7d8a90","opacity":1},
 "encoding":{"x":{"field":"i","type":"quantitative","scale":{"domain":[-1.2647,348.11],"nice":false,"zero":false}},
  "y":{"field":"p","type":"quantitative","scale":{"domain":[1.288,1.35479],"nice":false,"zero":false}}}},
{"data":{"name":"tagtxt"},"mark":{"type":"text","align":"center","baseline":"middle","fontSize":13,"fontWeight":500,"color":"#ffffff"},
 "encoding":{"x":{"field":"i","type":"quantitative","scale":{"domain":[-1.2647,348.11],"nice":false,"zero":false}},
  "y":{"field":"p","type":"quantitative","scale":{"domain":[1.288,1.35479],"nice":false,"zero":false}},"text":{"field":"t"}}}
]
}
